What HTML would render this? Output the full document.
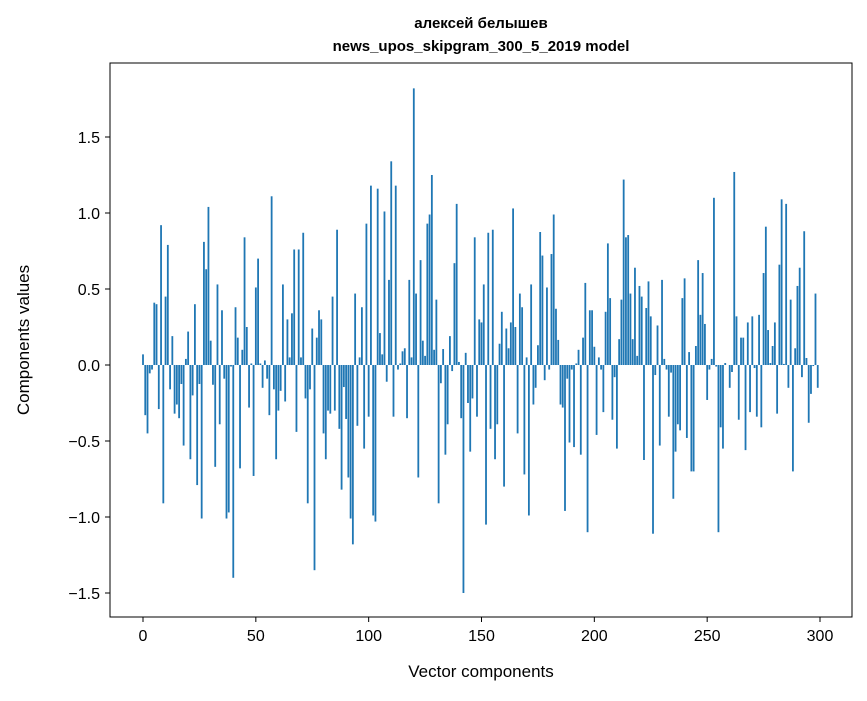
<!DOCTYPE html>
<html><head><meta charset="utf-8"><style>
body{margin:0;background:#fff;}
svg text{font-family:"Liberation Sans","DejaVu Sans",sans-serif;fill:#000;}
</style></head><body>
<svg id="chart" width="867" height="696">
<rect x="0" y="0" width="867" height="696" fill="#fff"/>
<text x="481" y="28" text-anchor="middle" font-size="15" font-weight="bold">алексей белышев</text>
<text x="481" y="51" text-anchor="middle" font-size="15" font-weight="bold">news_upos_skipgram_300_5_2019 model</text>
<g id="bars"></g>
<g id="axes"></g>
<rect x="110" y="63" width="742" height="554" fill="none" stroke="#000" stroke-width="1"/>
<text x="481" y="677" text-anchor="middle" font-size="17">Vector components</text>
<text x="29" y="340" text-anchor="middle" font-size="17" transform="rotate(-90 29 340)">Components values</text>
</svg>
<script>
const values = [0.07,-0.33,-0.45,-0.055,-0.03,0.41,0.40,-0.29,0.92,-0.91,
0.45,0.79,-0.16,0.19,-0.32,-0.26,-0.35,-0.125,-0.53,0.04,
0.22,-0.62,-0.2,0.40,-0.79,-0.125,-1.01,0.81,0.63,1.04,
0.16,-0.13,-0.67,0.53,-0.39,0.36,-0.09,-1.01,-0.97,-0.01,
-1.40,0.38,0.18,-0.68,0.10,0.84,0.25,-0.28,0.01,-0.73,
0.51,0.70,0.01,-0.15,0.03,-0.09,-0.33,1.11,-0.16,-0.62,
-0.30,-0.17,0.53,-0.24,0.30,0.05,0.34,0.76,-0.44,0.76,
0.05,0.87,-0.22,-0.91,-0.16,0.24,-1.35,0.18,0.36,0.30,
-0.45,-0.62,-0.30,-0.32,0.45,-0.30,0.89,-0.42,-0.82,-0.145,
-0.355,-0.74,-1.01,-1.18,0.47,-0.40,0.05,0.38,-0.55,0.93,
-0.34,1.18,-0.99,-1.03,1.16,0.21,0.07,1.01,-0.11,0.56,
1.34,-0.34,1.18,-0.03,0.01,0.09,0.11,-0.35,0.56,0.05,
1.82,0.47,-0.74,0.69,0.16,0.06,0.93,0.99,1.25,0.10,
0.43,-0.91,-0.12,0.105,-0.59,-0.39,0.19,-0.04,0.67,1.06,
0.02,-0.35,-1.50,0.08,-0.25,-0.57,-0.22,0.84,-0.34,0.30,
0.28,0.53,-1.05,0.87,-0.42,0.89,-0.62,-0.39,0.14,0.35,
-0.80,0.24,0.11,0.28,1.03,0.25,-0.45,0.47,0.38,-0.72,
0.05,-0.99,0.53,-0.26,-0.15,0.13,0.875,0.72,-0.10,0.51,
-0.03,0.73,0.99,0.37,0.165,-0.26,-0.28,-0.96,-0.09,-0.51,
-0.03,-0.54,0.01,0.10,-0.59,0.18,0.54,-1.10,0.36,0.36,
0.12,-0.46,0.05,-0.03,-0.31,0.35,0.80,0.44,-0.36,-0.08,
-0.55,0.17,0.43,1.22,0.84,0.855,0.47,0.17,0.64,0.06,
0.52,0.45,-0.625,0.375,0.55,0.32,-1.11,-0.066,0.26,-0.53,
0.56,0.04,-0.03,-0.34,-0.05,-0.88,-0.57,-0.39,-0.43,0.44,
0.57,-0.48,0.085,-0.70,-0.70,0.125,0.69,0.33,0.605,0.27,
-0.23,-0.03,0.04,1.10,-0.01,-1.10,-0.41,-0.55,0.013,0.0,
-0.15,-0.046,1.27,0.32,-0.36,0.18,0.18,-0.56,0.28,-0.31,
0.32,-0.02,-0.34,0.33,-0.41,0.605,0.91,0.23,0.013,0.125,
0.28,-0.32,0.66,1.09,0.007,1.06,-0.15,0.43,-0.70,0.11,
0.52,0.64,-0.08,0.88,0.046,-0.38,-0.19,-0.007,0.47,-0.15];
const xTicks = [0,50,100,150,200,250,300];
const yTicks = [-1.5,-1.0,-0.5,0.0,0.5,1.0,1.5];
const yTickLabels = ["\u22121.5","\u22121.0","\u22120.5","0.0","0.5","1.0","1.5"];

const NS="http://www.w3.org/2000/svg";
function xs(v){return 143+v*(677/300);}
function ys(v){return 365-v*152;}
const bw=0.8*(677/300);
const gb=document.getElementById('bars');
values.forEach((v,i)=>{
  const r=document.createElementNS(NS,'rect');
  r.setAttribute('x',xs(i)-bw/2);
  r.setAttribute('y',Math.min(ys(v),ys(0)));
  r.setAttribute('width',bw);
  r.setAttribute('height',Math.abs(ys(v)-ys(0)));
  r.setAttribute('fill','#1f77b4');
  
  
  gb.appendChild(r);
});
const ga=document.getElementById('axes');
xTicks.forEach(t=>{
  const l=document.createElementNS(NS,'line');
  l.setAttribute('x1',xs(t));l.setAttribute('x2',xs(t));
  l.setAttribute('y1',617);l.setAttribute('y2',622);
  l.setAttribute('stroke','#000');
  
  
  ga.appendChild(l);
  const tx=document.createElementNS(NS,'text');
  tx.setAttribute('x',xs(t));tx.setAttribute('y',641);
  tx.setAttribute('text-anchor','middle');tx.setAttribute('font-size','16');
  tx.textContent=t;
  
  
  ga.appendChild(tx);
});
yTicks.forEach((t,k)=>{
  const l=document.createElementNS(NS,'line');
  l.setAttribute('x1',105);l.setAttribute('x2',110);
  l.setAttribute('y1',ys(t));l.setAttribute('y2',ys(t));
  l.setAttribute('stroke','#000');
  
  
  ga.appendChild(l);
  const tx=document.createElementNS(NS,'text');
  tx.setAttribute('x',100);tx.setAttribute('y',ys(t)+6);
  tx.setAttribute('text-anchor','end');tx.setAttribute('font-size','16');
  tx.textContent=yTickLabels[k];
  
  
  ga.appendChild(tx);
});
</script>
</body></html>
